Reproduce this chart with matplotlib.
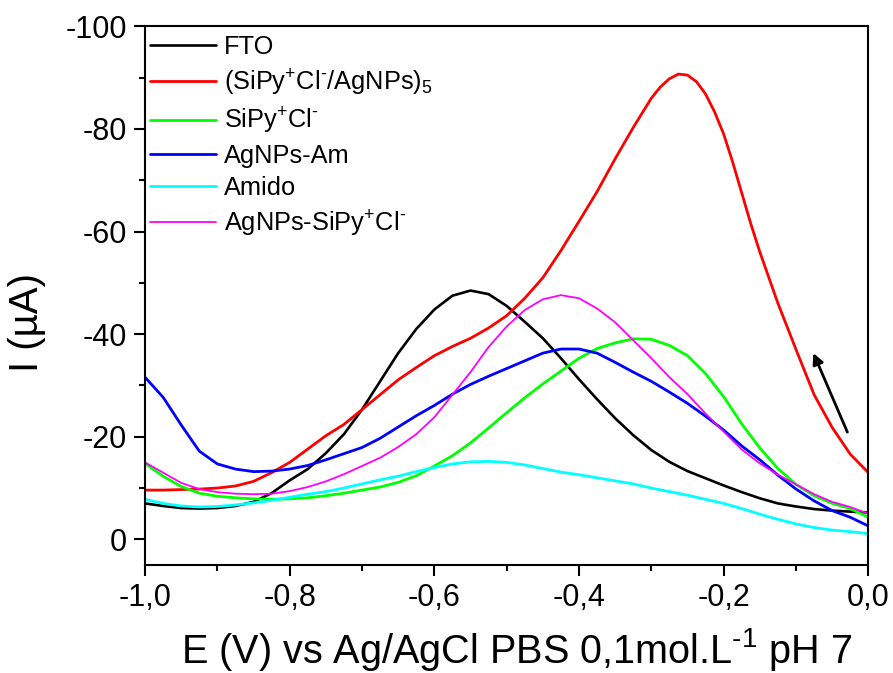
import matplotlib
matplotlib.use("Agg")
import matplotlib.pyplot as plt
from matplotlib.ticker import MultipleLocator, FuncFormatter

plt.rcParams['font.family'] = ['Liberation Sans', 'DejaVu Sans']
plt.rcParams['mathtext.fontset'] = 'custom'
plt.rcParams['mathtext.rm'] = 'Liberation Sans'
plt.rcParams['mathtext.it'] = 'Liberation Sans:italic'
plt.rcParams['mathtext.bf'] = 'Liberation Sans:bold'
plt.rcParams['mathtext.default'] = 'regular'
plt.rcParams['axes.unicode_minus'] = False

# ---- data ----
potential = [-1.000, -0.975, -0.950, -0.925, -0.900, -0.875, -0.850, -0.825, -0.800, -0.775,
             -0.750, -0.725, -0.700, -0.675, -0.650, -0.625, -0.600, -0.575, -0.550, -0.525,
             -0.500, -0.475, -0.450, -0.425, -0.400, -0.375, -0.350, -0.325, -0.300, -0.275,
             -0.250, -0.225, -0.200, -0.175, -0.150, -0.125, -0.100, -0.075, -0.050, -0.025, 0.000]

fto = [-7.0, -6.5, -6.1, -6.0, -6.1, -6.5, -7.3, -9.0, -11.5, -13.7,
       -16.8, -20.5, -25.3, -30.8, -36.3, -41.0, -44.8, -47.5, -48.5, -47.8,
       -45.5, -42.4, -39.2, -35.3, -31.2, -27.3, -23.6, -20.3, -17.4, -15.1,
       -13.3, -11.9, -10.5, -9.2, -8.0, -7.0, -6.4, -5.9, -5.6, -5.4, -5.2]

# red curve read at a finer step around its peak
potential_red = [-1.000, -0.975, -0.950, -0.925, -0.900, -0.875, -0.850, -0.825, -0.800, -0.775,
                 -0.750, -0.725, -0.700, -0.675, -0.650, -0.625, -0.600, -0.575, -0.550, -0.525,
                 -0.500, -0.475, -0.450, -0.425, -0.400, -0.375, -0.350, -0.325, -0.300, -0.2875,
                 -0.275, -0.2625, -0.250, -0.2375, -0.225, -0.2125, -0.200, -0.1875, -0.175, -0.1625,
                 -0.150, -0.125, -0.100, -0.075, -0.050, -0.025, 0.000]
sipy_agnps5 = [-9.6, -9.6, -9.7, -9.8, -10.0, -10.4, -11.3, -13.0, -15.0, -17.6,
               -20.2, -22.4, -25.3, -28.2, -31.1, -33.5, -35.8, -37.6, -39.2, -41.2,
               -43.6, -47.0, -51.0, -56.3, -62.0, -67.8, -74.2, -80.3, -86.0, -88.2,
               -89.8, -90.7, -90.5, -89.2, -86.8, -83.3, -79.0, -73.5, -67.5, -61.5,
               -56.0, -46.0, -37.0, -28.2, -21.8, -16.6, -13.0]

sipy = [-14.8, -12.3, -10.3, -9.0, -8.4, -8.1, -7.9, -7.8, -7.9, -8.1,
        -8.5, -9.0, -9.6, -10.2, -11.1, -12.4, -14.3, -16.3, -18.8, -21.7,
        -24.7, -27.6, -30.3, -32.8, -35.3, -37.2, -38.3, -39.1, -39.0, -37.8,
        -35.8, -32.3, -27.8, -22.5, -17.8, -13.8, -10.7, -8.5, -7.0, -6.0, -4.3]

agnps_am = [-31.6, -27.7, -22.3, -17.2, -14.7, -13.7, -13.2, -13.3, -13.7, -14.4,
            -15.5, -16.7, -17.9, -19.7, -21.9, -24.1, -26.1, -28.3, -30.2, -31.8,
            -33.3, -34.8, -36.3, -37.1, -37.1, -36.3, -34.5, -32.6, -30.8, -28.7,
            -26.5, -24.0, -21.3, -18.2, -15.5, -12.5, -9.8, -7.5, -5.6, -4.3, -2.6]

amido = [-7.8, -7.0, -6.5, -6.3, -6.4, -6.7, -7.1, -7.6, -8.2, -8.8,
         -9.3, -10.0, -10.8, -11.6, -12.3, -13.2, -14.0, -14.7, -15.1, -15.2,
         -15.0, -14.5, -13.8, -13.1, -12.6, -12.0, -11.4, -10.8, -10.0, -9.3,
         -8.6, -7.8, -7.0, -6.0, -4.9, -3.9, -3.0, -2.3, -1.8, -1.5, -1.1]

agnps_sipy = [-15.0, -13.0, -11.0, -9.8, -9.2, -8.9, -8.8, -8.9, -9.4, -10.2,
              -11.3, -12.7, -14.3, -15.9, -18.0, -20.5, -23.8, -28.2, -32.6, -37.5,
              -41.5, -44.7, -46.8, -47.6, -47.0, -45.0, -42.3, -38.8, -35.3, -31.6,
              -28.3, -24.5, -21.0, -17.5, -14.8, -12.6, -10.7, -8.8, -7.3, -6.3, -5.0]

HY = "\u2010"  # short hyphen for superscript charges
series = [
    ("FTO", potential, fto, "#000000", 1.9),
    ("(SiPy$^{+}$Cl$^{" + HY + "}$/AgNPs)$_{5}$", potential_red, sipy_agnps5, "#ff0000", 2.0),
    ("SiPy$^{+}$Cl$^{" + HY + "}$", potential, sipy, "#00ff00", 2.0),
    ("AgNPs-Am", potential, agnps_am, "#0000ff", 2.0),
    ("Amido", potential, amido, "#00ffff", 2.0),
    ("AgNPs-SiPy$^{+}$Cl$^{" + HY + "}$", potential, agnps_sipy, "#ff00ff", 1.3),
]

arrow_tail = (-0.029, -20.9)
arrow_head = (-0.076, -36.3)

# ---- figure ----
fig = plt.figure(figsize=(8.93, 6.73), dpi=100)
ax = fig.add_axes([0.1624, 0.1605, 0.8100, 0.8003])

for label, xs, vals, color, lw in series:
    ax.plot(xs, vals, color=color, lw=lw, label=label,
            solid_joinstyle='round', solid_capstyle='round')

ax.annotate('', xy=arrow_head, xytext=arrow_tail,
            arrowprops=dict(arrowstyle='-|>', color='k', lw=2.0, mutation_scale=16,
                            shrinkA=0, shrinkB=0))

ax.set_xlim(-1.0, 0.0)
ax.set_ylim(5.0, -100)

ax.xaxis.set_major_locator(MultipleLocator(0.2))
ax.xaxis.set_minor_locator(MultipleLocator(0.1))
ax.yaxis.set_major_locator(MultipleLocator(20))
ax.yaxis.set_minor_locator(MultipleLocator(10))
ax.xaxis.set_major_formatter(FuncFormatter(lambda v, p: ("%.1f" % v).replace('.', ',').replace('-0,0', '0,0')))
ax.yaxis.set_major_formatter(FuncFormatter(lambda v, p: "%d" % round(v)))

ax.tick_params(which='major', direction='out', length=8, width=1.5, labelsize=22, pad=5)
ax.tick_params(which='minor', direction='out', length=4.5, width=1.5)
for s in ax.spines.values():
    s.set_linewidth(1.5)

ax.set_xlabel("E (V) vs Ag/AgCl PBS 0,1mol.L$^{" + HY + "1}$ pH 7", fontsize=28.5)
ax.set_ylabel("I (\u00b5A)", fontsize=29)
ax.xaxis.set_label_coords(0.5145, -0.113)
ax.yaxis.set_label_coords(-0.137, 0.45)

ax.legend(loc='upper left', bbox_to_anchor=(0.0, 0.993), frameon=False, fontsize=18.3,
          handlelength=2.6, handletextpad=0.3, labelspacing=0.32, borderaxespad=0.0,
          borderpad=0.2)

fig.savefig("out.png", dpi=100)
